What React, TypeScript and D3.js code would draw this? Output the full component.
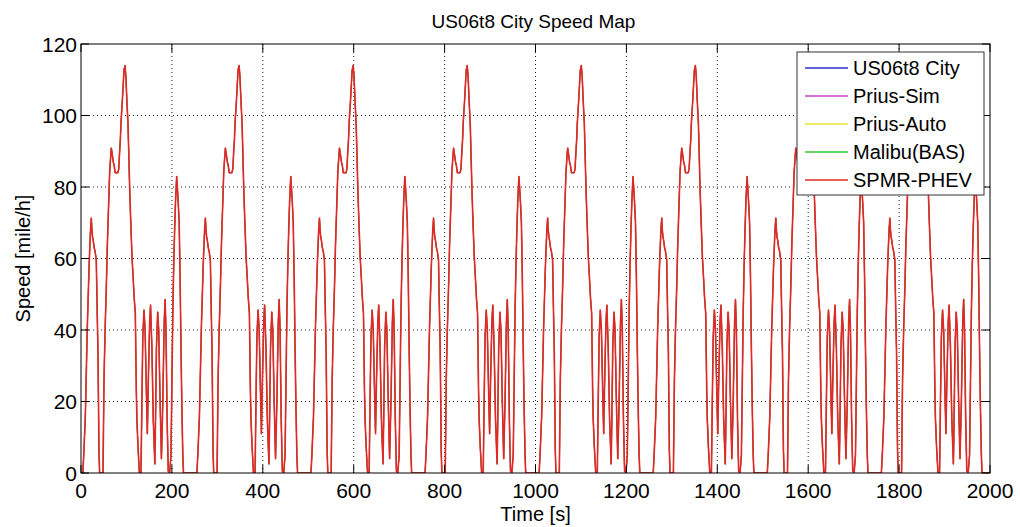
import React from 'react';
import * as d3 from 'd3';

// one US06 city cycle: time [s] within the cycle, speed [mile/h]
const cycleTime = [
  0, 4, 6, 9.5, 12, 13.9, 16, 17.6, 19, 21, 22.7, 24, 25.5, 27, 29, 31, 33.6, 35.5, 37.4, 39.5, 41,
  48.4, 50.6, 53, 55.7, 58, 60.9, 63, 65, 66.7, 68.9, 71, 73, 75, 78, 81, 83, 85, 86.5, 88, 90.9, 93,
  94.6, 96.8, 98.7, 101, 103.4, 105, 107, 109, 112.2, 115, 117, 119.5, 121.7, 123, 125.4, 128.5,
  132, 134, 136, 138.6, 141, 144, 146, 148, 151, 153, 156, 159, 162.5, 164, 166, 168.7, 171, 174,
  177, 180, 183, 185, 187, 189.5, 192, 195, 198, 200, 202, 204, 206, 208, 210.5, 212, 214, 216, 218,
  220, 222, 224, 225.5, 251,
];
const cycleSpeed = [
  0, 0, 5, 15.7, 30, 41, 50, 57, 62, 68, 71.3, 68, 66, 65, 63, 62, 59.6, 46, 33.6, 6.4, 0,
  0, 26, 40, 52, 64, 75.5, 84, 88, 90.9, 89, 87, 86, 84, 84, 84, 85, 90, 93, 98, 104, 109,
  112.7, 114, 111, 104, 97.8, 90, 80, 72, 60.5, 54, 49, 44.7, 23.2, 15, 7.4, 0,
  0, 20, 38, 45.6, 40, 22, 11, 25, 42, 47, 35, 15, 2.5, 15, 35, 45, 40, 20,
  4, 20, 42, 48.5, 40, 15, 0.5, 0, 5, 25, 45, 58, 68, 76, 82.9, 80, 75.5, 70, 55,
  35, 18, 5, 0, 0,
];
// start time of each of the 8 repetitions
const cycleStarts = [0, 251, 502, 753, 1004, 1255, 1506, 1757];

const seriesNames = ['US06t8 City', 'Prius-Sim', 'Prius-Auto', 'Malibu(BAS)', 'SPMR-PHEV'];
const seriesColors = ['#3030c8', '#c846c8', '#eaea30', '#38c838', '#e02828'];

const xTicks = [0, 200, 400, 600, 800, 1000, 1200, 1400, 1600, 1800, 2000];
const yTicks = [0, 20, 40, 60, 80, 100, 120];

const W = 1020;
const H = 527;
const margin = { top: 44, right: 30, bottom: 54, left: 81 };
const FONT = '"Liberation Sans", Arial, Helvetica, sans-serif';

export default function App() {
  const x = d3.scaleLinear().domain([0, 2000]).range([margin.left, W - margin.right]);
  const y = d3.scaleLinear().domain([0, 120]).range([H - margin.bottom, margin.top]);

  const points: [number, number][] = [];
  cycleStarts.forEach((s) => {
    cycleTime.forEach((t, i) => points.push([s + t, cycleSpeed[i]]));
  });

  const line = d3.line<[number, number]>()
    .x((d) => x(d[0]))
    .y((d) => y(d[1]));
  const path = line(points) || '';

  const x0 = x(0), x1 = x(2000), y0 = y(0), y1 = y(120);
  const tickLen = 8;
  const last = seriesNames.length - 1;

  // legend layout
  const lg = { left: 797, top: 52, width: 187, height: 143, row: 28 };

  return (
    <div style={{ position: 'absolute', left: 0, top: 0 }}>
      <svg width={W} height={H} style={{ display: 'block', background: '#fff' }} fontFamily={FONT}>
        <defs>
          <clipPath id="plot-clip">
            <rect x={x0} y={y1} width={x1 - x0} height={y0 - y1} />
          </clipPath>
        </defs>

        {/* grid */}
        {xTicks.slice(1, -1).map((t) => (
          <line key={'gx' + t} x1={x(t)} x2={x(t)} y1={y1} y2={y0}
            stroke="#222" strokeWidth={1} strokeDasharray="1,3" />
        ))}
        {yTicks.slice(1, -1).map((t) => (
          <line key={'gy' + t} x1={x0} x2={x1} y1={y(t)} y2={y(t)}
            stroke="#222" strokeWidth={1} strokeDasharray="1,3" />
        ))}

        {/* series, drawn in legend order so the last one sits on top */}
        <g clipPath="url(#plot-clip)">
          {seriesNames.map((name, i) => (
            <path key={name} d={path} fill="none" stroke={seriesColors[i]}
              strokeWidth={i === last ? 1.6 : 0.8} strokeLinejoin="round" />
          ))}
        </g>

        {/* box and ticks */}
        <rect x={x0} y={y1} width={x1 - x0} height={y0 - y1} fill="none" stroke="#000" strokeWidth={1} />
        {xTicks.map((t) => (
          <g key={'tx' + t}>
            <line x1={x(t)} x2={x(t)} y1={y0} y2={y0 - tickLen} stroke="#000" />
            <line x1={x(t)} x2={x(t)} y1={y1} y2={y1 + tickLen} stroke="#000" />
            <text x={x(t)} y={y0 + 25} textAnchor="middle" fontSize={21} fill="#000">{t}</text>
          </g>
        ))}
        {yTicks.map((t) => (
          <g key={'ty' + t}>
            <line x1={x0} x2={x0 + tickLen} y1={y(t)} y2={y(t)} stroke="#000" />
            <line x1={x1} x2={x1 - tickLen} y1={y(t)} y2={y(t)} stroke="#000" />
            <text x={x0 - 4} y={y(t) + 7.5} textAnchor="end" fontSize={21} fill="#000">{t}</text>
          </g>
        ))}

        {/* labels */}
        <text x={(x0 + x1) / 2 - 2} y={28} textAnchor="middle" fontSize={19} fill="#000">
          US06t8 City Speed Map
        </text>
        <text x={(x0 + x1) / 2} y={521} textAnchor="middle" fontSize={20} fill="#000">Time [s]</text>
        <text transform={`translate(30,${(y0 + y1) / 2}) rotate(-90)`} textAnchor="middle"
          fontSize={20} fill="#000">Speed [mile/h]</text>

        {/* legend */}
        <rect x={lg.left} y={lg.top} width={lg.width} height={lg.height} fill="#fff" stroke="#333" strokeWidth={1} />
        {seriesNames.map((name, i) => {
          const ry = lg.top + 16 + i * lg.row;
          return (
            <g key={'lg' + name}>
              <line x1={lg.left + 8} x2={lg.left + 51} y1={ry} y2={ry} stroke={seriesColors[i]} strokeWidth={1.4} />
              <text x={lg.left + 56} y={ry + 7} fontSize={20} fill="#000">{name}</text>
            </g>
          );
        })}
      </svg>
    </div>
  );
}
